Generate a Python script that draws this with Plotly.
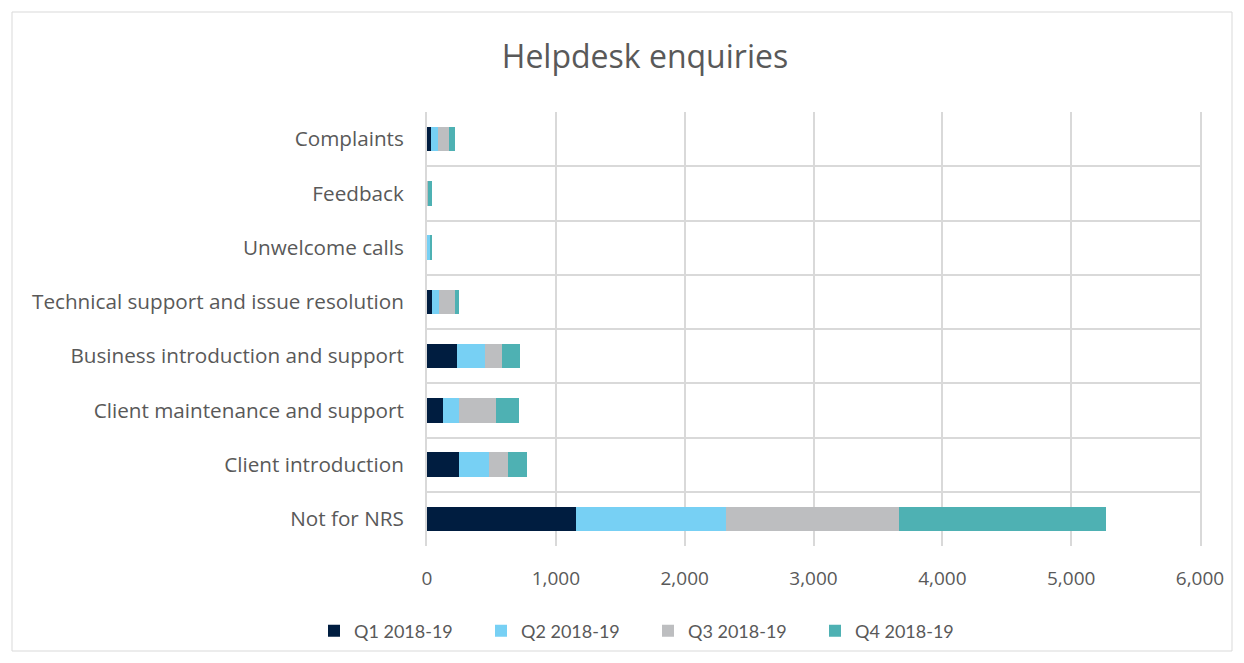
import plotly.graph_objects as go

categories = [
    "Complaints",
    "Feedback",
    "Unwelcome calls",
    "Technical support and issue resolution",
    "Business introduction and support",
    "Client maintenance and support",
    "Client introduction",
    "Not for NRS",
]
series_names = ["Q1 2018-19", "Q2 2018-19", "Q3 2018-19", "Q4 2018-19"]
q1 = [34, 2, 2, 41, 235, 127, 246, 1160]
q2 = [51, 3, 22, 54, 217, 119, 238, 1160]
q3 = [88, 5, 5, 120, 130, 287, 145, 1340]
q4 = [47, 30, 4, 36, 137, 179, 150, 1610]
colors = ["#001d40", "#77d0f4", "#bdbec0", "#4eb1b3"]
x_ticks = [0, 1000, 2000, 3000, 4000, 5000, 6000]

FONT = "Open Sans"
GREY = "#595959"

W, H = 1228, 647  # page has an 8px body margin
L, R, T, B = 419, 36, 104, 109
PW, PH = W - L - R, H - T - B

fig = go.Figure()
for name, vals, col in zip(series_names, [q1, q2, q3, q4], colors):
    fig.add_trace(go.Bar(
        y=categories, x=vals, name=name, orientation="h",
        marker=dict(color=col, line=dict(width=0)),
    ))

fig.update_layout(
    barmode="stack",
    bargap=0.55,
    width=W, height=H,
    paper_bgcolor="white", plot_bgcolor="white",
    margin=dict(l=L, r=R, t=T, b=B),
    font=dict(family=FONT, color=GREY, size=16),
    title=dict(text="Helpdesk enquiries", x=637 / W, xanchor="center",
               y=1 - 49 / H, yanchor="middle",
               font=dict(size=32, color=GREY, family=FONT)),
    legend=dict(orientation="h", xref="container", yref="container",
                x=640 / W, xanchor="center", y=1 - 623 / H, yanchor="middle",
                bgcolor="rgba(0,0,0,0)",
                font=dict(size=18, color=GREY, family="Lato"), traceorder="normal",
                entrywidth=122, entrywidthmode="pixels"),
    xaxis=dict(range=[0, 6000], tickvals=x_ticks, tickformat=",",
               showgrid=True, gridcolor="#d9d9d9", gridwidth=2,
               zeroline=False, showline=False, ticks="",
               ticklabelstandoff=19,
               tickfont=dict(size=19, color=GREY, family=FONT)),
    yaxis=dict(autorange="reversed", tickson="boundaries", showgrid=True,
               gridcolor="#d9d9d9", gridwidth=2, ticks="", showline=True,
               linecolor="#d9d9d9", linewidth=2, mirror=True,
               ticklabelstandoff=17,
               tickfont=dict(size=20.7, color=GREY, family=FONT)),
    shapes=[dict(type="rect", xref="paper", yref="paper",
                 x0=-(L - 4) / PW, x1=1 + (R - 4) / PW,
                 y0=-(B - 4) / PH, y1=1 + (T - 4) / PH,
                 line=dict(color="#d9d9d9", width=1), fillcolor="rgba(0,0,0,0)",
                 layer="below")],
)

fig.write_html("out.html")
